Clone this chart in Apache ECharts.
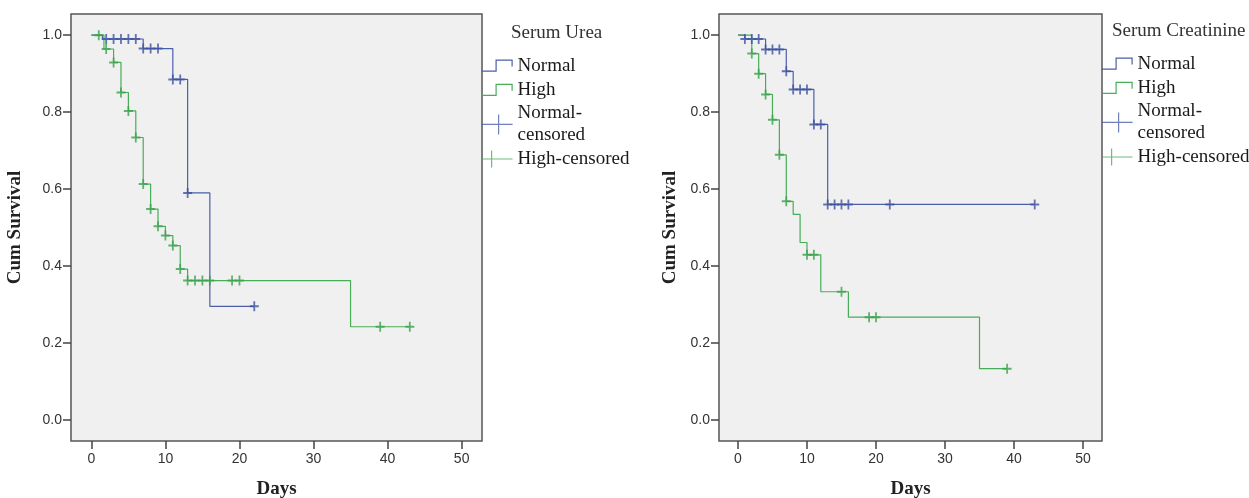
<!DOCTYPE html>
<html>
<head>
<meta charset="utf-8">
<style>
  html, body { margin: 0; padding: 0; background: #fff; }
  #chart { width: 1249px; height: 498px; }
</style>
<script src="https://cdn.jsdelivr.net/npm/echarts@6/dist/echarts.min.js"></script>
</head>
<body>
<div id="chart"></div>
<script>
// Serum Urea (left panel): step points of each KM curve, plus censored days
const ureaNormalDays = [0, 1.5, 7, 11, 13, 16, 22];
const ureaNormalSurv = [1.0, 0.99, 0.965, 0.885, 0.59, 0.295, 0.295];
const ureaNormalCensored = [2, 3, 4, 5, 6, 7, 8, 9, 11, 12, 13, 22];
const ureaHighDays = [0, 1.7, 3, 4, 5, 6, 7, 8, 9, 10, 11, 12, 13, 35, 43];
const ureaHighSurv = [1.0, 0.964, 0.929, 0.851, 0.803, 0.734, 0.613, 0.548, 0.503, 0.479, 0.453, 0.392, 0.362, 0.242, 0.242];
const ureaHighCensored = [1, 2, 3, 4, 5, 6, 7, 8, 9, 10, 11, 12, 13, 14, 15, 16, 19, 20, 39, 43];

// Serum Creatinine (right panel)
const creatNormalDays = [0, 1, 4, 7, 8, 11, 13, 43];
const creatNormalSurv = [1.0, 0.99, 0.963, 0.906, 0.859, 0.768, 0.56, 0.56];
const creatNormalCensored = [1, 2, 3, 4, 5, 6, 7, 8, 9, 10, 11, 12, 13, 14, 15, 16, 22, 43];
const creatHighDays = [0, 2, 3, 4, 5, 6, 7, 8, 9, 10, 12, 16, 35, 39];
const creatHighSurv = [1.0, 0.952, 0.9, 0.846, 0.78, 0.689, 0.568, 0.534, 0.461, 0.429, 0.333, 0.267, 0.133, 0.133];
const creatHighCensored = [2, 3, 4, 5, 6, 7, 10, 11, 15, 19, 20, 39];

const dayTicks = [0, 10, 20, 30, 40, 50];
const survTicks = [0, 0.2, 0.4, 0.6, 0.8, 1.0];

const BLUE = '#4a5fa9';
const GREEN = '#47ad57';
const BLUE_MARK = '#3d52a0';
const GREEN_MARK = '#3ba34c';
const SERIF = 'Liberation Serif';
const SANS = 'Liberation Sans';

// survival value at day t (value after any drop on that day)
function survAt(days, surv, t) {
  let s = surv[0];
  for (let i = 0; i < days.length; i++) {
    if (days[i] <= t) s = surv[i];
  }
  return s;
}

function pairs(xs, ys) {
  return xs.map((x, i) => [x, ys[i]]);
}

function censorPoints(censored, days, surv) {
  return censored.map(t => [t, survAt(days, surv, t)]);
}

const CROSS = 'path://M4,0H6V4H10V6H6V10H4V6H0V4H4Z';
const STEP_ICON = 'path://M0,0M0,16.5H14.5V5.5H30.5V12M31,22';
const NC_ICON = 'path://M0,0M0,11H31M17,1V21M31,22';
const HC_ICON = 'path://M0,0M0,11H31M10,2.5V19.5M31,22';

function legendFor(left, top) {
  return {
    left: left, top: top, orient: 'vertical', padding: 0,
    itemWidth: 31, itemHeight: 22, itemGap: 1,
    selectedMode: false,
    textStyle: { fontFamily: SERIF, fontSize: 19, lineHeight: 22, color: '#1a1a1a' },
    formatter: name => name === 'Normal-censored' ? 'Normal-\ncensored' : name,
    data: [
      { name: 'Normal', icon: STEP_ICON, itemStyle: { color: 'rgba(0,0,0,0)', borderColor: BLUE, borderWidth: 1.2 } },
      { name: 'High', icon: STEP_ICON, itemStyle: { color: 'rgba(0,0,0,0)', borderColor: GREEN, borderWidth: 1.2 } },
      { name: 'Normal-censored', icon: NC_ICON, itemStyle: { color: 'rgba(0,0,0,0)', borderColor: BLUE, borderWidth: 1.2 } },
      { name: 'High-censored', icon: HC_ICON, itemStyle: { color: 'rgba(0,0,0,0)', borderColor: GREEN, borderWidth: 1.2 } }
    ]
  };
}

function xAxisFor(gridIndex) {
  return {
    type: 'value', gridIndex: gridIndex, position: 'bottom',
    min: -2.75, max: 52.75,
    name: 'Days', nameLocation: 'middle', nameGap: 39, nameMoveOverlap: false,
    nameTextStyle: { fontFamily: SERIF, fontWeight: 'bold', fontSize: 19, color: '#222' },
    axisLine: { show: false, onZero: false },
    axisTick: { show: true, inside: false, length: 8, customValues: dayTicks, lineStyle: { color: '#444', width: 1.5 } },
    axisLabel: { customValues: dayTicks, margin: 11, fontFamily: SANS, fontSize: 14, color: '#333' },
    splitLine: { show: false }
  };
}

function yAxisFor(gridIndex, nameGap) {
  return {
    type: 'value', gridIndex: gridIndex, position: 'left',
    min: -0.055, max: 1.055,
    name: 'Cum Survival', nameLocation: 'middle', nameGap: nameGap, nameMoveOverlap: false,
    nameTextStyle: { fontFamily: SERIF, fontWeight: 'bold', fontSize: 19, color: '#222' },
    axisLine: { show: false, onZero: false },
    axisTick: { show: true, inside: false, length: 8, customValues: survTicks, lineStyle: { color: '#444', width: 1.5 } },
    axisLabel: { customValues: survTicks, margin: 9, fontFamily: SANS, fontSize: 14, color: '#333',
      formatter: v => v.toFixed(1) },
    splitLine: { show: false }
  };
}

function kmLine(name, idx, data, color) {
  return {
    name: name, type: 'line', step: 'end', xAxisIndex: idx, yAxisIndex: idx,
    data: data, showSymbol: false, symbol: 'none', z: 2,
    lineStyle: { color: color, width: 1.2 }, itemStyle: { color: color }
  };
}

function censorMarks(name, idx, data, color) {
  return {
    name: name, type: 'scatter', xAxisIndex: idx, yAxisIndex: idx,
    data: data, symbol: CROSS, symbolSize: [9, 10], z: 3,
    itemStyle: { color: color }
  };
}

const chart = echarts.init(document.getElementById('chart'), null, { renderer: 'canvas' });

chart.setOption({
  animation: false,
  backgroundColor: '#fff',
  title: [
    { text: 'Serum Urea', left: 511, top: 24, padding: 0,
      textStyle: { fontFamily: SERIF, fontSize: 19, fontWeight: 'normal', color: '#333' } },
    { text: 'Serum Creatinine', left: 1112, top: 22, padding: 0,
      textStyle: { fontFamily: SERIF, fontSize: 19, fontWeight: 'normal', color: '#333' } }
  ],
  legend: [legendFor(481, 54), legendFor(1101, 52)],
  grid: [
    { left: 71, top: 14, width: 411, height: 427, show: true, backgroundColor: '#f0f0f0',
      borderColor: '#555', borderWidth: 1.5, outerBoundsMode: 'none', containLabel: false },
    { left: 719, top: 14, width: 383, height: 427, show: true, backgroundColor: '#f0f0f0',
      borderColor: '#555', borderWidth: 1.5, outerBoundsMode: 'none', containLabel: false }
  ],
  xAxis: [xAxisFor(0), xAxisFor(1)],
  yAxis: [yAxisFor(0, 46), yAxisFor(1, 39)],
  series: [
    kmLine('Normal', 0, pairs(ureaNormalDays, ureaNormalSurv), BLUE),
    kmLine('High', 0, pairs(ureaHighDays, ureaHighSurv), GREEN),
    censorMarks('Normal-censored', 0, censorPoints(ureaNormalCensored, ureaNormalDays, ureaNormalSurv), BLUE_MARK),
    censorMarks('High-censored', 0, censorPoints(ureaHighCensored, ureaHighDays, ureaHighSurv), GREEN_MARK),
    kmLine('Normal', 1, pairs(creatNormalDays, creatNormalSurv), BLUE),
    kmLine('High', 1, pairs(creatHighDays, creatHighSurv), GREEN),
    censorMarks('Normal-censored', 1, censorPoints(creatNormalCensored, creatNormalDays, creatNormalSurv), BLUE_MARK),
    censorMarks('High-censored', 1, censorPoints(creatHighCensored, creatHighDays, creatHighSurv), GREEN_MARK)
  ]
});
</script>
</body>
</html>
